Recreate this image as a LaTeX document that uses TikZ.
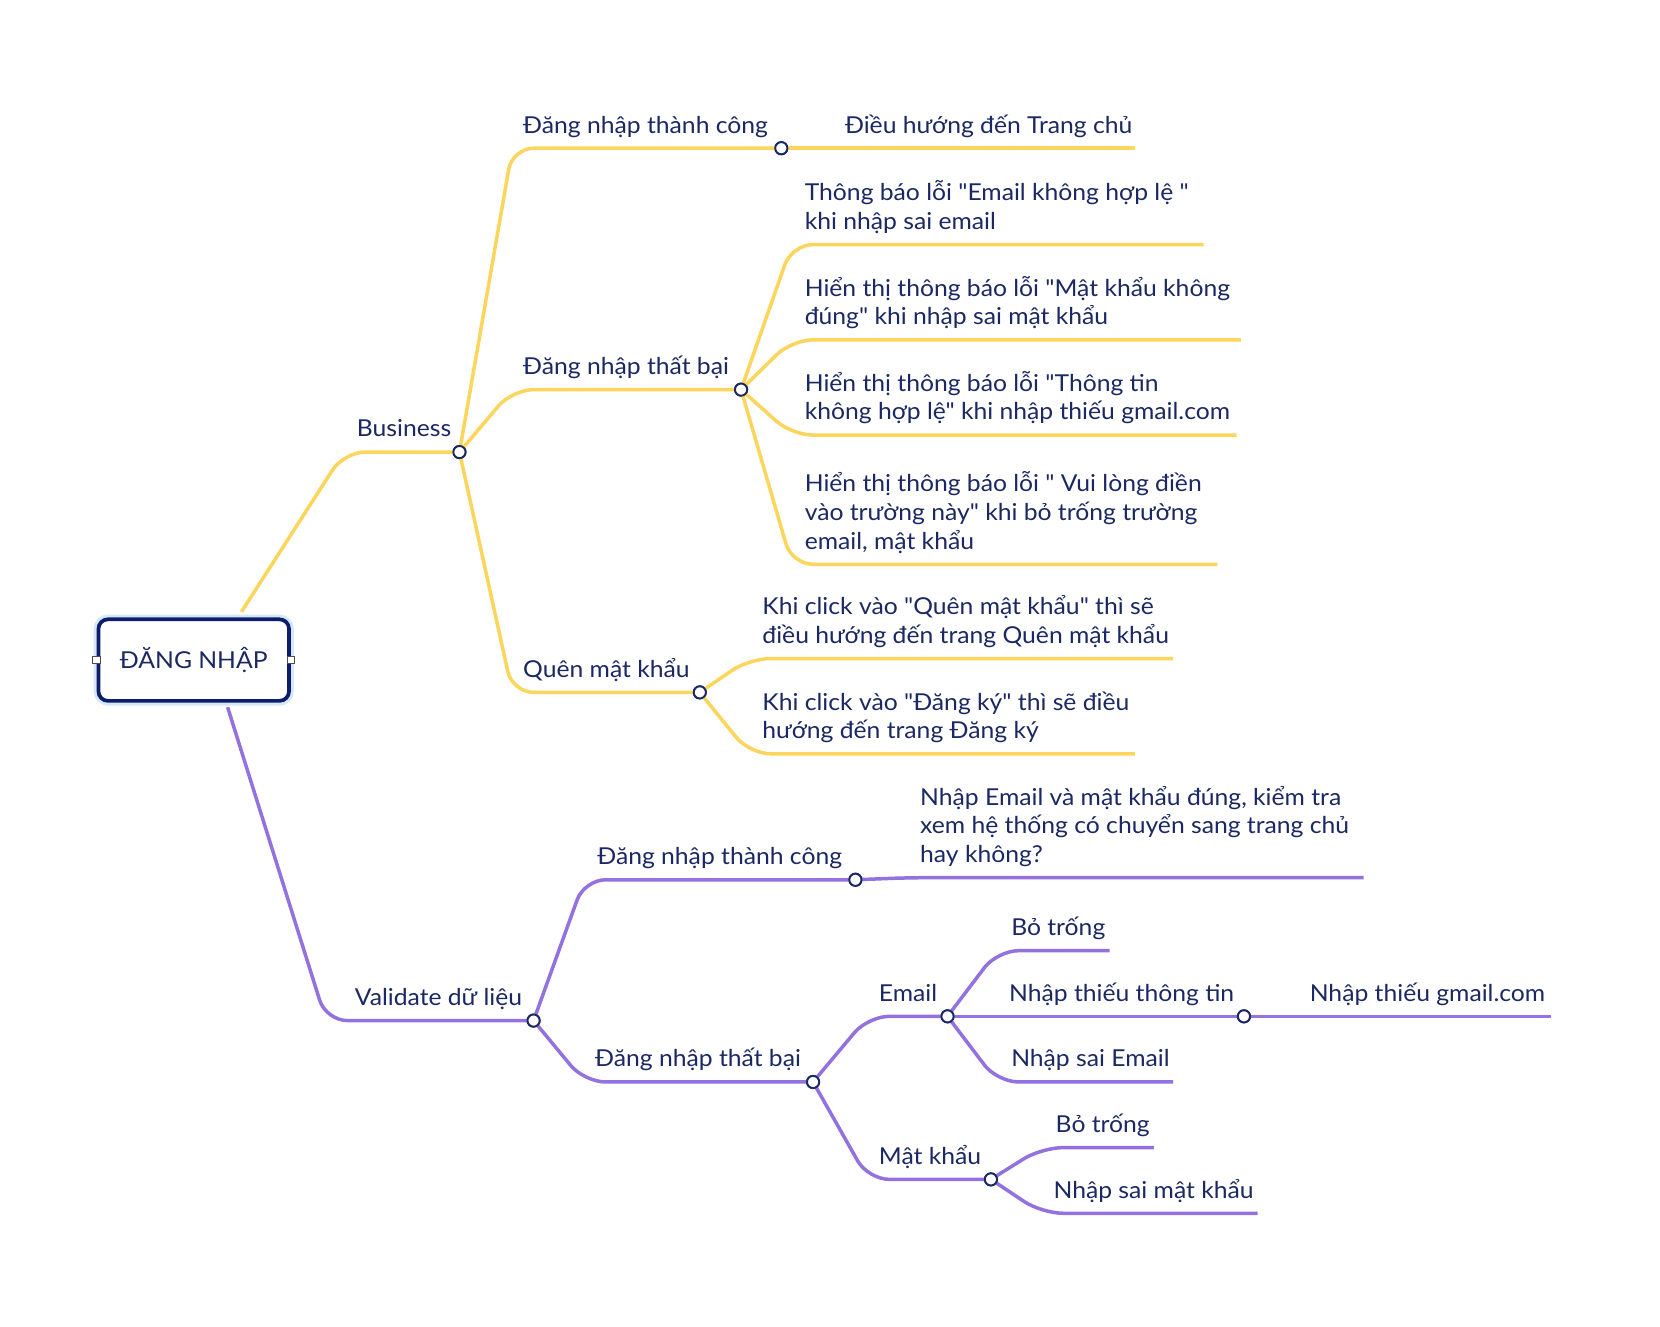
\documentclass[tikz,border=0pt]{standalone}
\usepackage{fontspec}
\setmainfont{Lato}[Ligatures=TeXOff, FakeStretch=1.06]
\definecolor{ink}{HTML}{1B2863}
\definecolor{navy}{HTML}{0C1E6B}
\definecolor{glowc}{HTML}{D6E8F8}
\definecolor{ylw}{HTML}{FCD55C}
\definecolor{vio}{HTML}{9372DF}
\tikzset{
  txt/.style={font=\fontsize{22}{27}\selectfont, text=ink, inner sep=0pt,
              anchor=south west, align=left, execute at end node=\strut},
  yl/.style={draw=ylw, line width=3.3pt, rounded corners=20pt},
  pl/.style={draw=vio, line width=3.3pt, rounded corners=20pt},
  jn/.style={circle, draw=ink, fill=white, line width=1.8pt, minimum size=11.5pt, inner sep=0pt},
  rootbox/.style={draw=navy, line width=3.5pt, rounded corners=9pt, fill=white,
                  minimum width=180pt, minimum height=77pt, inner sep=0pt,
                  font=\fontsize{22}{27}\selectfont, text=ink,
                  preaction={draw=glowc, line width=9pt}},
  handle/.style={rectangle, draw=black!70, fill=white, line width=0.8pt,
                 minimum size=7pt, inner sep=0pt}
}
\begin{document}
\begin{tikzpicture}[x=1pt,y=-1pt]
\useasboundingbox[fill=white] (0,0) rectangle (1568,1253);

% ---------- junction nodes ----------
\node[jn] (jBus) at (434,427) {};
\node[jn] (jOk)  at (738,140) {};
\node[jn] (jFail) at (700,368) {};
\node[jn] (jFg)  at (661,654) {};
\node[jn] (jVal) at (504,964) {};
\node[jn] (jVOk) at (808,831) {};
\node[jn] (jVF)  at (768,1022) {};
\node[jn] (jEm)  at (895,960) {};
\node[jn] (jMiss) at (1175,960) {};
\node[jn] (jPw)  at (936,1114) {};

% ---------- bends and free ends ----------
\coordinate (rootN) at (228,578);
\coordinate (rootS) at (215,668);
\coordinate (cBus) at (325,427);
\coordinate (cOk) at (484,140);   \coordinate (eGo) at (1072,140);
\coordinate (cFail) at (484,368);
\coordinate (c1) at (748,231);    \coordinate (e1) at (1137,231);
\coordinate (c2) at (748,321);    \coordinate (e2) at (1172,321);
\coordinate (c3) at (748,411);    \coordinate (e3) at (1168,411);
\coordinate (c4) at (748,533);    \coordinate (e4) at (1150,533);
\coordinate (cFg) at (484,654);
\coordinate (c5) at (708,622);    \coordinate (e5) at (1108,622);
\coordinate (c6) at (708,712);    \coordinate (e6) at (1072,712);
\coordinate (cVal) at (308,964);
\coordinate (cVOk) at (552,831);
\coordinate (cChk) at (859,829);  \coordinate (eChk) at (1288,829);
\coordinate (cVF) at (552,1022);
\coordinate (cEm) at (820,960);
\coordinate (cB1) at (942,898);   \coordinate (eB1) at (1048,898);
\coordinate (eGm) at (1465,960);
\coordinate (cSE) at (942,1022);  \coordinate (eSE) at (1108,1022);
\coordinate (cPw) at (820,1114);
\coordinate (cB2) at (984,1084);  \coordinate (eB2) at (1090,1084);
\coordinate (cSP) at (984,1146);  \coordinate (eSP) at (1188,1146);

% ---------- yellow branch: Business ----------
\draw[yl] (rootN) -- (cBus) -- (jBus.center);
\draw[yl] (jBus.center) -- (cOk) -- (jOk.center);
\draw[yl] (jOk.center) -- (eGo);
\draw[yl] (jBus.center) -- (cFail) -- (jFail.center);
\draw[yl] (jFail.center) -- (c1) -- (e1);
\draw[yl] (jFail.center) -- (c2) -- (e2);
\draw[yl] (jFail.center) -- (c3) -- (e3);
\draw[yl] (jFail.center) -- (c4) -- (e4);
\draw[yl] (jBus.center) -- (cFg) -- (jFg.center);
\draw[yl] (jFg.center) -- (c5) -- (e5);
\draw[yl] (jFg.center) -- (c6) -- (e6);

% ---------- violet branch: Validate ----------
\draw[pl] (rootS) -- (cVal) -- (jVal.center);
\draw[pl] (jVal.center) -- (cVOk) -- (jVOk.center);
\draw[pl] (jVOk.center) -- (cChk) -- (eChk);
\draw[pl] (jVal.center) -- (cVF) -- (jVF.center);
\draw[pl] (jVF.center) -- (cEm) -- (jEm.center);
\draw[pl] (jEm.center) -- (cB1) -- (eB1);
\draw[pl] (jEm.center) -- (jMiss.center);
\draw[pl] (jMiss.center) -- (eGm);
\draw[pl] (jEm.center) -- (cSE) -- (eSE);
\draw[pl] (jVF.center) -- (cPw) -- (jPw.center);
\draw[pl] (jPw.center) -- (cB2) -- (eB2);
\draw[pl] (jPw.center) -- (cSP) -- (eSP);

% ---------- junction circles on top ----------
\foreach \j in {jBus,jOk,jFail,jFg,jVal,jVOk,jVF,jEm,jMiss,jPw}
  \node[jn] at (\j) {};

% ---------- root ----------
\node[rootbox] (root) at (183,623.5) {ĐĂNG NHẬP};
\node[handle] (hW) at (root.west) {};
\node[handle] (hE) at (root.east) {};

% ---------- labels ----------
\node[txt] (tBus) at (337,421) {Business};
\node[txt] (tOk) at (494,134) {Đăng nhập thành công};
\node[txt] (tGo) at (798,134) {Điều hướng đến Trang chủ};
\node[txt] (tFail) at (494,362) {Đăng nhập thất bại};
\node[txt] (t1) at (760,225) {Thông báo lỗi "Email không hợp lệ "\\khi nhập sai email};
\node[txt] (t2) at (760,315) {Hiển thị thông báo lỗi "Mật khẩu không\\đúng" khi nhập sai mật khẩu};
\node[txt] (t3) at (760,405) {Hiển thị thông báo lỗi "Thông tin\\không hợp lệ" khi nhập thiếu gmail.com};
\node[txt] (t4) at (760,527) {Hiển thị thông báo lỗi " Vui lòng điền\\vào trường này" khi bỏ trống trường\\email, mật khẩu};
\node[txt] (tFg) at (494,648) {Quên mật khẩu};
\node[txt] (t5) at (720,616) {Khi click vào "Quên mật khẩu" thì sẽ\\điều hướng đến trang Quên mật khẩu};
\node[txt] (t6) at (720,706) {Khi click vào "Đăng ký" thì sẽ điều\\hướng đến trang Đăng ký};

\node[txt] (tVal) at (335,958) {Validate dữ liệu};
\node[txt] (tVOk) at (564,825) {Đăng nhập thành công};
\node[txt] (tChk) at (869,823) {Nhập Email và mật khẩu đúng, kiểm tra\\xem hệ thống có chuyển sang trang chủ\\hay không?};
\node[txt] (tVF) at (562,1016) {Đăng nhập thất bại};
\node[txt] (tEm) at (830,954) {Email};
\node[txt] (tB1) at (955,892) {Bỏ trống};
\node[txt] (tMiss) at (953,954) {Nhập thiếu thông tin};
\node[txt] (tGm) at (1237,954) {Nhập thiếu gmail.com};
\node[txt] (tSE) at (955,1016) {Nhập sai Email};
\node[txt] (tPw) at (830,1108) {Mật khẩu};
\node[txt] (tB2) at (997,1078) {Bỏ trống};
\node[txt] (tSP) at (995,1140) {Nhập sai mật khẩu};
\end{tikzpicture}
\end{document}
